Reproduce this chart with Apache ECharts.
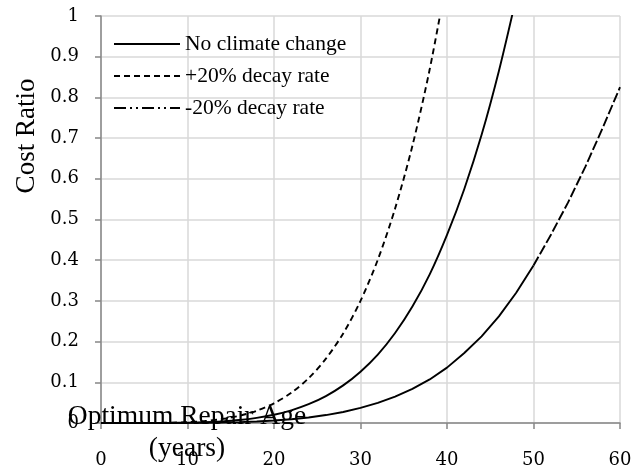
<!DOCTYPE html>
<html>
<head>
<meta charset="utf-8">
<script src="https://cdn.jsdelivr.net/npm/echarts@6/dist/echarts.min.js"></script>
<style>
html,body{margin:0;padding:0;background:#fff;}
#chart{width:642px;height:473px;}
</style>
</head>
<body>
<div id="chart"></div>
<script>
// Optimum repair age (years)
const ages = [0,2,4,6,8,10,12,14,16,18,20,22,24,26,28,30,32,34,36,38,40,42,44,46,48,50,52,54,56,58,60];
// Cost ratio
const noClimate = [0,0,0,0.0001,0.0003,0.0009,0.002,0.0041,0.0074,0.0127,0.0203,0.0312,0.0462,0.0662,0.0924,0.126,0.168,0.221,0.286,0.365,0.462,0.575,0.708,0.865,1.045,null,null,null,null,null,null];
const plus20 = [0,0,0,0.0002,0.0008,0.0021,0.0049,0.0097,0.0177,0.0301,0.0484,0.0743,0.110,0.158,0.220,0.300,0.401,0.527,0.681,0.869,1.095,null,null,null,null,null,null,null,null,null,null];
const minus20 = [0,0,0,0,0.0001,0.0003,0.0006,0.0012,0.0022,0.0037,0.006,0.0092,0.0136,0.0195,0.0271,0.037,0.0495,0.065,0.084,0.107,0.136,0.172,0.213,0.262,0.320,0.387,0.462,0.542,0.630,0.725,0.825];
const yTicks = [0,0.1,0.2,0.3,0.4,0.5,0.6,0.7,0.8,0.9,1];
const xTicks = [0,10,20,30,40,50,60];
const seriesNames = ['No climate change','+20% decay rate','-20% decay rate'];
const minusDashFrom = 50;

const SERIF = 'Liberation Serif';
const DIGITS = 'DejaVu Serif';
function pairs(vals, filt){
  const out = [];
  ages.forEach((a,i)=>{ if(vals[i]!==null && (!filt || filt(a))) out.push([a, vals[i]]); });
  return out;
}
const chart = echarts.init(document.getElementById('chart'), null, {renderer:'canvas'});
const lineBase = {type:'line', symbol:'none', showSymbol:false, smooth:0.3, clip:true, silent:true, animation:false};
chart.setOption({
  animation:false,
  grid:{left:101, right:22, top:16, bottom:50},
  legend:{
    data:[
      {name:seriesNames[0]},
      {name:seriesNames[1]},
      {name:seriesNames[2], lineStyle:{type:[12,4,2,4,2,4]}}
    ],
    orient:'vertical', left:108, top:28,
    itemWidth:66, itemHeight:18, itemGap:10,
    itemStyle:{opacity:0},
    textStyle:{fontFamily:SERIF, fontSize:21.5, color:'#000'},
    selectedMode:false
  },
  xAxis:{
    type:'value', min:xTicks[0], max:xTicks[xTicks.length-1], interval:10,
    axisLine:{show:true, onZero:false, lineStyle:{color:'#878787', width:1.5}},
    axisTick:{show:true, length:6, lineStyle:{color:'#878787', width:1.5}},
    axisLabel:{fontFamily:DIGITS, fontSize:18, color:'#000', margin:28},
    splitLine:{show:true, lineStyle:{color:'#d9d9d9', width:1.5}}
  },
  yAxis:{
    type:'value', min:yTicks[0], max:yTicks[yTicks.length-1], interval:0.1,
    axisLine:{show:true, lineStyle:{color:'#878787', width:1.5}},
    axisTick:{show:true, length:6, lineStyle:{color:'#878787', width:1.5}},
    axisLabel:{fontFamily:DIGITS, fontSize:18, color:'#000', margin:22,
      formatter:v=>String(Math.round(v*10)/10)},
    splitLine:{show:true, lineStyle:{color:'#d9d9d9', width:1.5}}
  },
  graphic:[
    {type:'text', x:27, y:136, rotation:Math.PI/2,
     style:{text:'Cost Ratio', fontFamily:SERIF, fontSize:27, fill:'#000', textAlign:'center', textVerticalAlign:'middle'}},
    {type:'text', x:187, y:433, z:100,
     style:{text:'Optimum Repair Age\n(years)', fontFamily:SERIF, fontSize:27.5, lineHeight:32, fill:'#000', textAlign:'center', textVerticalAlign:'middle'}}
  ],
  series:[
    Object.assign({}, lineBase, {name:seriesNames[0], data:pairs(noClimate), lineStyle:{color:'#000', width:1.9, type:'solid'}, itemStyle:{color:'#000'}}),
    Object.assign({}, lineBase, {name:seriesNames[1], data:pairs(plus20), lineStyle:{color:'#000', width:1.9, type:[6,4]}, itemStyle:{color:'#000'}}),
    Object.assign({}, lineBase, {name:seriesNames[2], smooth:false, data:pairs(minus20, a=>a>=minusDashFrom), lineStyle:{color:'#000', width:1.9, type:[10,3]}, itemStyle:{color:'#000'}}),
    Object.assign({}, lineBase, {name:'lower part', smooth:false, data:pairs(minus20, a=>a<=minusDashFrom), lineStyle:{color:'#000', width:1.9, type:'solid'}, itemStyle:{color:'#000'}})
  ]
});
</script>
</body>
</html>
